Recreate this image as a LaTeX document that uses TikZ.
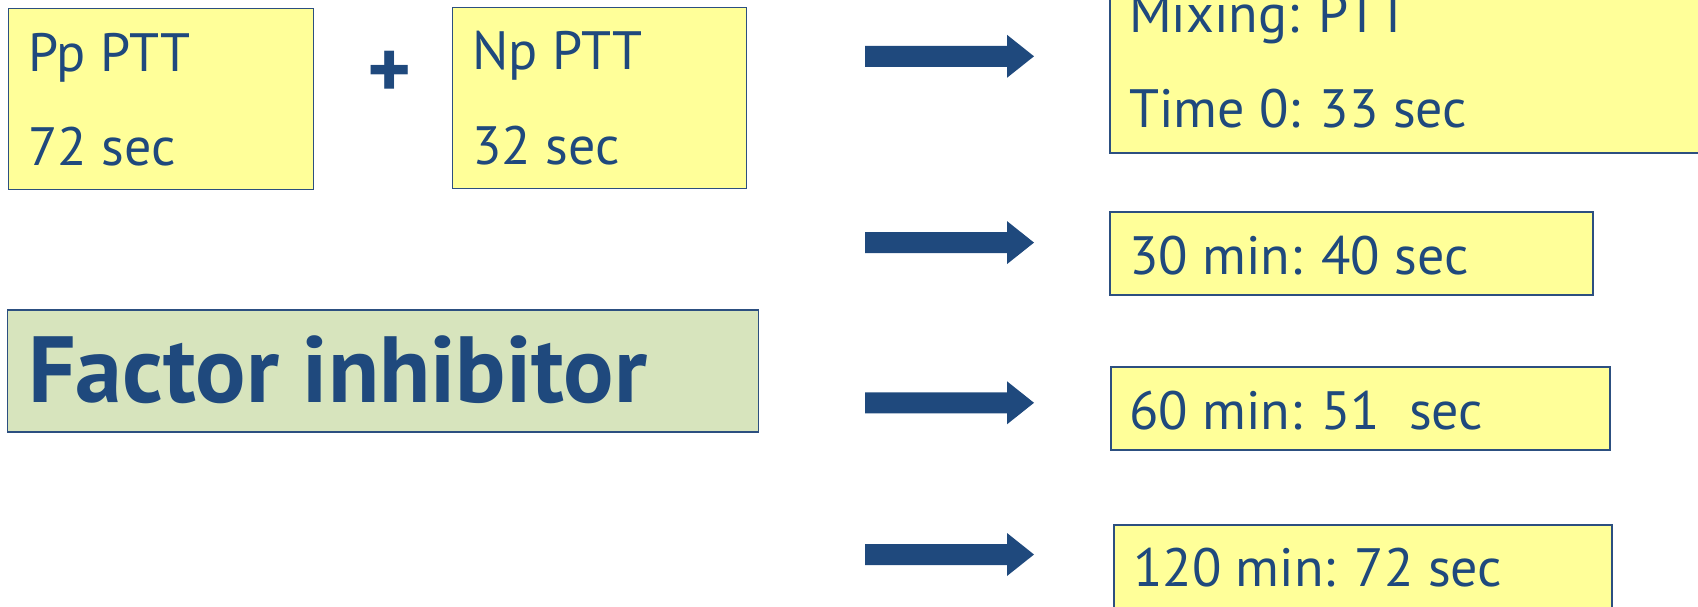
\documentclass[tikz,border=0pt]{standalone}
\usepackage{fontspec}
\setmainfont{PT Sans}
\definecolor{navy}{HTML}{1F497D}
\definecolor{boxline}{HTML}{2C4F80}
\definecolor{paleyellow}{HTML}{FFFF99}
\definecolor{palegreen}{HTML}{D7E4BD}
\tikzset{
  ybox/.style={draw=boxline, line width=1.8pt, fill=paleyellow, rectangle, inner sep=0pt, anchor=north west},
  gbox/.style={draw=boxline, line width=1.8pt, fill=palegreen, rectangle, inner sep=0pt, anchor=north west},
  txt/.style={anchor=base west, inner sep=0pt, text=navy, font=\fontsize{54}{60}\selectfont},
  bigtxt/.style={anchor=base west, inner sep=0pt, text=navy, font=\fontsize{94}{100}\selectfont\bfseries},
  blockarrow/.style={fill=navy}
}
\newcommand{\blockarr}[2]{% start x, center y
  \fill[blockarrow] (#1,#2-10.5) -- (#1+142,#2-10.5) -- (#1+142,#2-21.5) -- (#1+169,#2) -- (#1+142,#2+21.5) -- (#1+142,#2+10.5) -- (#1,#2+10.5) -- cycle;}
\begin{document}
\begin{tikzpicture}[x=1pt,y=-1pt]
\useasboundingbox (0,0) rectangle (1698,606);
% boxes
\node[ybox, minimum width=305pt, minimum height=181pt] (pp) at (7.6,7.6) {};
\node[ybox, minimum width=294pt, minimum height=181pt] (np) at (451.6,6.5) {};
\node[ybox, minimum width=620pt, minimum height=182pt] (mix) at (1109,-30) {};
\node[ybox, minimum width=483pt, minimum height=83pt] (t30) at (1109,211) {};
\node[ybox, minimum width=499pt, minimum height=83pt] (t60) at (1110,366) {};
\node[ybox, minimum width=498pt, minimum height=120pt] (t120) at (1113,524) {};
\node[gbox, minimum width=751pt, minimum height=122pt] (fi) at (6.5,309) {};
% texts
\node[txt] (pp1) at (28,71.5) {Pp PTT};
\node[txt] (pp2) at (28,165.7) {72 sec};
\node[txt] (np1) at (472,69) {Np PTT};
\node[txt] (np2) at (472,164.6) {32 sec};
\node[anchor=center, inner sep=0pt, text=navy, font=\fontsize{84}{84}\selectfont\bfseries] (plus) at (390,75) {+};
\node[txt] (mix1) at (1129,32.5) {Mixing: PTT};
\node[txt] (mix2) at (1129,127.8) {Time 0: 33 sec};
\node[txt] (t30t) at (1129,274) {30 min: 40 sec};
\node[txt] (t60t) at (1129,429) {60 min: 51\ \ sec};
\node[txt] (t120t) at (1133,586) {120 min: 72 sec};
\node[bigtxt] (fit) at (28,402) {Factor inhibitor};
% block arrows
\blockarr{865}{56.3}
\blockarr{865}{242.6}
\blockarr{865}{402.8}
\blockarr{865}{554.5}
\end{tikzpicture}
\end{document}
